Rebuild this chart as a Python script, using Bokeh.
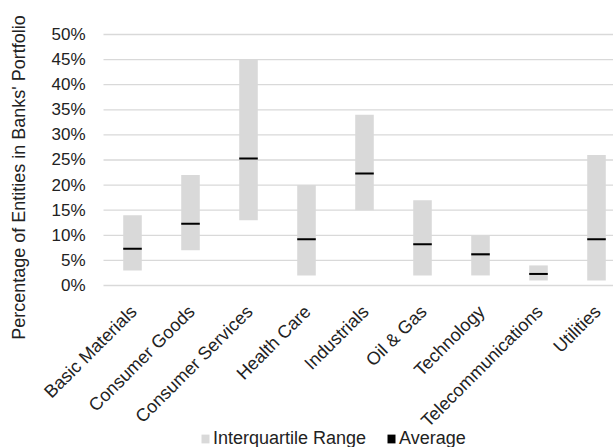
import math

from bokeh.embed import file_html
from bokeh.resources import INLINE
from bokeh.plotting import figure
from bokeh.core.properties import value
from bokeh.models import (ColumnDataSource, Range1d, Legend, LegendItem)

# Sector IQR bands and averages (percent of entities in banks' portfolio)
sectors = ["Basic Materials", "Consumer Goods", "Consumer Services",
           "Health Care", "Industrials", "Oil & Gas", "Technology",
           "Telecommunications", "Utilities"]
q1 = [3, 7, 13, 2, 15, 2, 2, 1, 1]
q3 = [14, 22, 45, 20, 34, 17, 10, 4, 26]
avg = [7.3, 12.3, 25.3, 9.2, 22.3, 8.2, 6.2, 2.3, 9.2]

y_ticks = [0, 5, 10, 15, 20, 25, 30, 35, 40, 45, 50]
y_tick_labels = [f"{t}%" for t in y_ticks]
y_title = "Percentage of Entities in Banks' Portfolio"

FONT = "Liberation Sans"
TEXT = "#222222"
GREY = "#d9d9d9"

# x: one unit per sector; the plot area runs from -0.5 to the right edge,
# the margin left of it holds the value labels and the axis title
X_START, X_LEFT, X_END = -2.276, -0.5, 8.293
# y: room above 50% and below 0% for the slanted names and the legend
Y_START, Y_END = -32.27, 56.77

pos = list(range(len(sectors)))
src = ColumnDataSource(dict(x=pos, q1=q1, q3=q3, avg=avg,
                            label=sectors, base=[0] * len(sectors)))
ysrc = ColumnDataSource(dict(y=y_ticks, label=y_tick_labels,
                             left=[X_LEFT] * len(y_ticks),
                             right=[X_END] * len(y_ticks)))

p = figure(width=613, height=447, min_border=0,
           x_range=Range1d(X_START, X_END), y_range=Range1d(Y_START, Y_END),
           output_backend="svg", toolbar_location=None,
           background_fill_color="white", border_fill_color="white")
p.outline_line_color = None
p.axis.visible = False
p.grid.grid_line_color = None

# horizontal gridlines and their percentage labels
p.segment(x0="left", y0="y", x1="right", y1="y", source=ysrc,
          line_color=GREY, line_width=1.3)
p.text(x="left", y="y", text="label", source=ysrc, x_offset=-18,
       text_align="right", text_baseline="middle",
       text_font=value(FONT), text_font_size="17px", text_color=TEXT)

iqr = p.vbar(x="x", bottom="q1", top="q3", width=0.32, source=src,
             fill_color=GREY, line_color=None)
mean = p.rect(x="x", y="avg", width=0.32, height=2, height_units="screen",
              source=src, fill_color="black", line_color=None)

# category names, slanted 45 degrees and hung from just below 0%
p.text(x="x", y="base", text="label", source=src, angle=math.pi / 4,
       text_align="right", text_baseline="top", x_offset=-6, y_offset=16,
       text_font=value(FONT), text_font_size="18px", text_color=TEXT)

# vertical axis title
p.text(x=[X_START], y=[0], text=[y_title], angle=math.pi / 2,
       x_offset=18, y_offset=-108, text_align="center",
       text_baseline="middle", text_font=value(FONT),
       text_font_size="18px", text_color=TEXT)

legend = Legend(items=[LegendItem(label="Interquartile Range", renderers=[iqr]),
                       LegendItem(label="Average", renderers=[mean])],
                location=(200, -2), orientation="horizontal",
                glyph_width=10, glyph_height=11, label_height=11,
                label_standoff=3, spacing=20, padding=0, margin=0,
                border_line_color=None, background_fill_alpha=0,
                label_text_font=FONT, label_text_font_size="18px",
                label_text_color=TEXT)
p.add_layout(legend, "center")

with open("out.html", "w") as f:
    f.write(file_html(p, INLINE))
